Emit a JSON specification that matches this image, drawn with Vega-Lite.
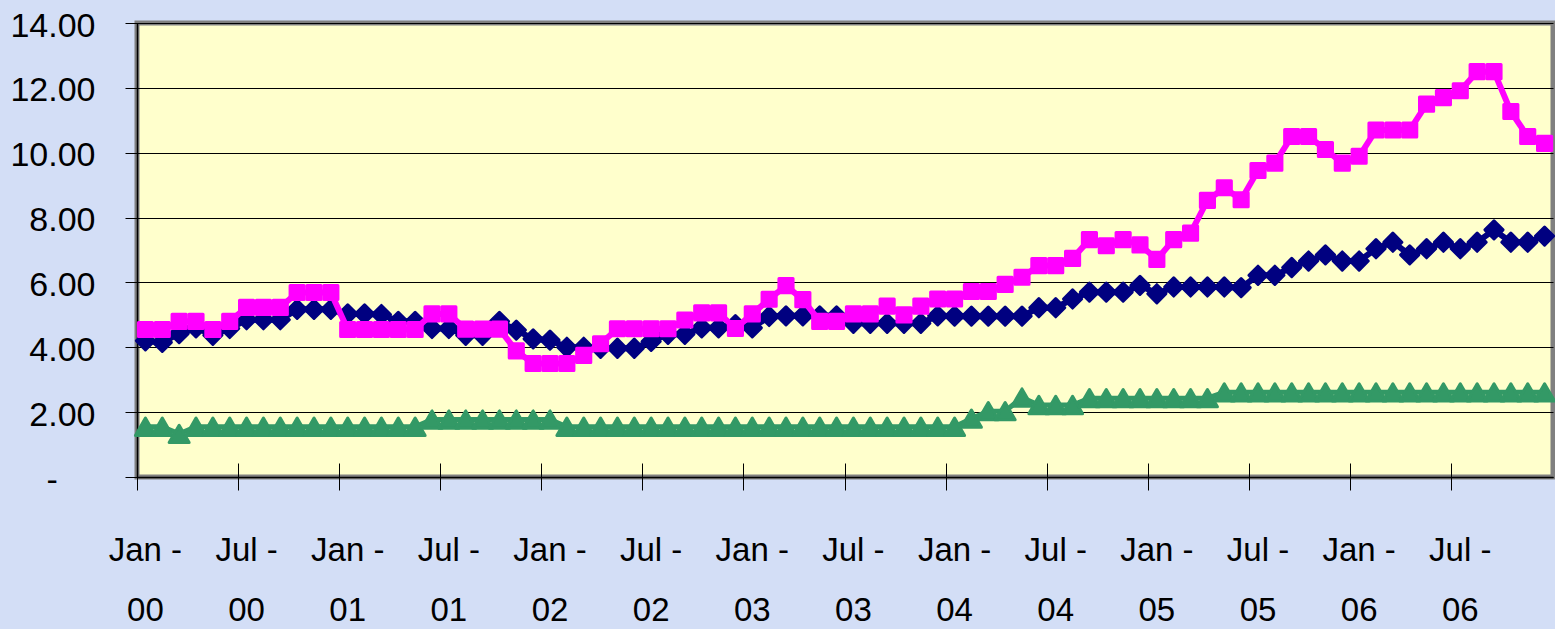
{
  "$schema": "https://vega.github.io/schema/vega-lite/v6.json",
  "width": 1416,
  "height": 454,
  "autosize": {"type": "none"},
  "padding": {"left": 137, "top": 23, "right": 2, "bottom": 152},
  "background": "#D3DEF6",
  "view": {"fill": "#FFFFCC", "stroke": "#808080", "strokeWidth": 5},
  "data": {"values": [
    {"month":"2000-01","series":"Series 1","value":4.20},{"month":"2000-02","series":"Series 1","value":4.15},{"month":"2000-03","series":"Series 1","value":4.42},{"month":"2000-04","series":"Series 1","value":4.60},{"month":"2000-05","series":"Series 1","value":4.37},{"month":"2000-06","series":"Series 1","value":4.58},{"month":"2000-07","series":"Series 1","value":4.85},{"month":"2000-08","series":"Series 1","value":4.85},{"month":"2000-09","series":"Series 1","value":4.85},{"month":"2000-10","series":"Series 1","value":5.17},{"month":"2000-11","series":"Series 1","value":5.17},{"month":"2000-12","series":"Series 1","value":5.17},
    {"month":"2001-01","series":"Series 1","value":5.03},{"month":"2001-02","series":"Series 1","value":5.03},{"month":"2001-03","series":"Series 1","value":5.01},{"month":"2001-04","series":"Series 1","value":4.80},{"month":"2001-05","series":"Series 1","value":4.80},{"month":"2001-06","series":"Series 1","value":4.58},{"month":"2001-07","series":"Series 1","value":4.58},{"month":"2001-08","series":"Series 1","value":4.37},{"month":"2001-09","series":"Series 1","value":4.37},{"month":"2001-10","series":"Series 1","value":4.80},{"month":"2001-11","series":"Series 1","value":4.53},{"month":"2001-12","series":"Series 1","value":4.26},
    {"month":"2002-01","series":"Series 1","value":4.22},{"month":"2002-02","series":"Series 1","value":4.00},{"month":"2002-03","series":"Series 1","value":4.00},{"month":"2002-04","series":"Series 1","value":3.97},{"month":"2002-05","series":"Series 1","value":3.97},{"month":"2002-06","series":"Series 1","value":3.97},{"month":"2002-07","series":"Series 1","value":4.18},{"month":"2002-08","series":"Series 1","value":4.40},{"month":"2002-09","series":"Series 1","value":4.40},{"month":"2002-10","series":"Series 1","value":4.60},{"month":"2002-11","series":"Series 1","value":4.60},{"month":"2002-12","series":"Series 1","value":4.70},
    {"month":"2003-01","series":"Series 1","value":4.60},{"month":"2003-02","series":"Series 1","value":4.95},{"month":"2003-03","series":"Series 1","value":4.97},{"month":"2003-04","series":"Series 1","value":4.97},{"month":"2003-05","series":"Series 1","value":4.97},{"month":"2003-06","series":"Series 1","value":4.97},{"month":"2003-07","series":"Series 1","value":4.74},{"month":"2003-08","series":"Series 1","value":4.74},{"month":"2003-09","series":"Series 1","value":4.74},{"month":"2003-10","series":"Series 1","value":4.74},{"month":"2003-11","series":"Series 1","value":4.74},{"month":"2003-12","series":"Series 1","value":4.97},
    {"month":"2004-01","series":"Series 1","value":4.96},{"month":"2004-02","series":"Series 1","value":4.96},{"month":"2004-03","series":"Series 1","value":4.96},{"month":"2004-04","series":"Series 1","value":4.96},{"month":"2004-05","series":"Series 1","value":4.96},{"month":"2004-06","series":"Series 1","value":5.22},{"month":"2004-07","series":"Series 1","value":5.22},{"month":"2004-08","series":"Series 1","value":5.49},{"month":"2004-09","series":"Series 1","value":5.70},{"month":"2004-10","series":"Series 1","value":5.70},{"month":"2004-11","series":"Series 1","value":5.70},{"month":"2004-12","series":"Series 1","value":5.91},
    {"month":"2005-01","series":"Series 1","value":5.65},{"month":"2005-02","series":"Series 1","value":5.86},{"month":"2005-03","series":"Series 1","value":5.86},{"month":"2005-04","series":"Series 1","value":5.86},{"month":"2005-05","series":"Series 1","value":5.86},{"month":"2005-06","series":"Series 1","value":5.84},{"month":"2005-07","series":"Series 1","value":6.22},{"month":"2005-08","series":"Series 1","value":6.22},{"month":"2005-09","series":"Series 1","value":6.46},{"month":"2005-10","series":"Series 1","value":6.66},{"month":"2005-11","series":"Series 1","value":6.85},{"month":"2005-12","series":"Series 1","value":6.66},
    {"month":"2006-01","series":"Series 1","value":6.66},{"month":"2006-02","series":"Series 1","value":7.04},{"month":"2006-03","series":"Series 1","value":7.24},{"month":"2006-04","series":"Series 1","value":6.85},{"month":"2006-05","series":"Series 1","value":7.04},{"month":"2006-06","series":"Series 1","value":7.24},{"month":"2006-07","series":"Series 1","value":7.04},{"month":"2006-08","series":"Series 1","value":7.24},{"month":"2006-09","series":"Series 1","value":7.62},{"month":"2006-10","series":"Series 1","value":7.24},{"month":"2006-11","series":"Series 1","value":7.24},{"month":"2006-12","series":"Series 1","value":7.43},

    {"month":"2000-01","series":"Series 2","value":4.55},{"month":"2000-02","series":"Series 2","value":4.55},{"month":"2000-03","series":"Series 2","value":4.80},{"month":"2000-04","series":"Series 2","value":4.80},{"month":"2000-05","series":"Series 2","value":4.55},{"month":"2000-06","series":"Series 2","value":4.80},{"month":"2000-07","series":"Series 2","value":5.23},{"month":"2000-08","series":"Series 2","value":5.23},{"month":"2000-09","series":"Series 2","value":5.23},{"month":"2000-10","series":"Series 2","value":5.69},{"month":"2000-11","series":"Series 2","value":5.69},{"month":"2000-12","series":"Series 2","value":5.69},
    {"month":"2001-01","series":"Series 2","value":4.55},{"month":"2001-02","series":"Series 2","value":4.55},{"month":"2001-03","series":"Series 2","value":4.55},{"month":"2001-04","series":"Series 2","value":4.55},{"month":"2001-05","series":"Series 2","value":4.55},{"month":"2001-06","series":"Series 2","value":5.03},{"month":"2001-07","series":"Series 2","value":5.03},{"month":"2001-08","series":"Series 2","value":4.56},{"month":"2001-09","series":"Series 2","value":4.56},{"month":"2001-10","series":"Series 2","value":4.56},{"month":"2001-11","series":"Series 2","value":3.89},{"month":"2001-12","series":"Series 2","value":3.50},
    {"month":"2002-01","series":"Series 2","value":3.50},{"month":"2002-02","series":"Series 2","value":3.50},{"month":"2002-03","series":"Series 2","value":3.75},{"month":"2002-04","series":"Series 2","value":4.11},{"month":"2002-05","series":"Series 2","value":4.57},{"month":"2002-06","series":"Series 2","value":4.57},{"month":"2002-07","series":"Series 2","value":4.57},{"month":"2002-08","series":"Series 2","value":4.57},{"month":"2002-09","series":"Series 2","value":4.84},{"month":"2002-10","series":"Series 2","value":5.06},{"month":"2002-11","series":"Series 2","value":5.06},{"month":"2002-12","series":"Series 2","value":4.58},
    {"month":"2003-01","series":"Series 2","value":5.03},{"month":"2003-02","series":"Series 2","value":5.48},{"month":"2003-03","series":"Series 2","value":5.90},{"month":"2003-04","series":"Series 2","value":5.47},{"month":"2003-05","series":"Series 2","value":4.80},{"month":"2003-06","series":"Series 2","value":4.80},{"month":"2003-07","series":"Series 2","value":5.03},{"month":"2003-08","series":"Series 2","value":5.03},{"month":"2003-09","series":"Series 2","value":5.27},{"month":"2003-10","series":"Series 2","value":5.00},{"month":"2003-11","series":"Series 2","value":5.27},{"month":"2003-12","series":"Series 2","value":5.49},
    {"month":"2004-01","series":"Series 2","value":5.49},{"month":"2004-02","series":"Series 2","value":5.72},{"month":"2004-03","series":"Series 2","value":5.72},{"month":"2004-04","series":"Series 2","value":5.94},{"month":"2004-05","series":"Series 2","value":6.16},{"month":"2004-06","series":"Series 2","value":6.52},{"month":"2004-07","series":"Series 2","value":6.52},{"month":"2004-08","series":"Series 2","value":6.74},{"month":"2004-09","series":"Series 2","value":7.32},{"month":"2004-10","series":"Series 2","value":7.13},{"month":"2004-11","series":"Series 2","value":7.32},{"month":"2004-12","series":"Series 2","value":7.16},
    {"month":"2005-01","series":"Series 2","value":6.71},{"month":"2005-02","series":"Series 2","value":7.32},{"month":"2005-03","series":"Series 2","value":7.52},{"month":"2005-04","series":"Series 2","value":8.53},{"month":"2005-05","series":"Series 2","value":8.92},{"month":"2005-06","series":"Series 2","value":8.55},{"month":"2005-07","series":"Series 2","value":9.45},{"month":"2005-08","series":"Series 2","value":9.68},{"month":"2005-09","series":"Series 2","value":10.50},{"month":"2005-10","series":"Series 2","value":10.50},{"month":"2005-11","series":"Series 2","value":10.10},{"month":"2005-12","series":"Series 2","value":9.68},
    {"month":"2006-01","series":"Series 2","value":9.89},{"month":"2006-02","series":"Series 2","value":10.70},{"month":"2006-03","series":"Series 2","value":10.70},{"month":"2006-04","series":"Series 2","value":10.70},{"month":"2006-05","series":"Series 2","value":11.50},{"month":"2006-06","series":"Series 2","value":11.70},{"month":"2006-07","series":"Series 2","value":11.91},{"month":"2006-08","series":"Series 2","value":12.50},{"month":"2006-09","series":"Series 2","value":12.50},{"month":"2006-10","series":"Series 2","value":11.27},{"month":"2006-11","series":"Series 2","value":10.50},{"month":"2006-12","series":"Series 2","value":10.29},

    {"month":"2000-01","series":"Series 3","value":1.55},{"month":"2000-02","series":"Series 3","value":1.55},{"month":"2000-03","series":"Series 3","value":1.33},{"month":"2000-04","series":"Series 3","value":1.55},{"month":"2000-05","series":"Series 3","value":1.55},{"month":"2000-06","series":"Series 3","value":1.55},{"month":"2000-07","series":"Series 3","value":1.55},{"month":"2000-08","series":"Series 3","value":1.55},{"month":"2000-09","series":"Series 3","value":1.55},{"month":"2000-10","series":"Series 3","value":1.55},{"month":"2000-11","series":"Series 3","value":1.55},{"month":"2000-12","series":"Series 3","value":1.55},
    {"month":"2001-01","series":"Series 3","value":1.55},{"month":"2001-02","series":"Series 3","value":1.55},{"month":"2001-03","series":"Series 3","value":1.55},{"month":"2001-04","series":"Series 3","value":1.55},{"month":"2001-05","series":"Series 3","value":1.55},{"month":"2001-06","series":"Series 3","value":1.77},{"month":"2001-07","series":"Series 3","value":1.77},{"month":"2001-08","series":"Series 3","value":1.77},{"month":"2001-09","series":"Series 3","value":1.77},{"month":"2001-10","series":"Series 3","value":1.77},{"month":"2001-11","series":"Series 3","value":1.77},{"month":"2001-12","series":"Series 3","value":1.77},
    {"month":"2002-01","series":"Series 3","value":1.77},{"month":"2002-02","series":"Series 3","value":1.55},{"month":"2002-03","series":"Series 3","value":1.55},{"month":"2002-04","series":"Series 3","value":1.55},{"month":"2002-05","series":"Series 3","value":1.55},{"month":"2002-06","series":"Series 3","value":1.55},{"month":"2002-07","series":"Series 3","value":1.55},{"month":"2002-08","series":"Series 3","value":1.55},{"month":"2002-09","series":"Series 3","value":1.55},{"month":"2002-10","series":"Series 3","value":1.55},{"month":"2002-11","series":"Series 3","value":1.55},{"month":"2002-12","series":"Series 3","value":1.55},
    {"month":"2003-01","series":"Series 3","value":1.55},{"month":"2003-02","series":"Series 3","value":1.55},{"month":"2003-03","series":"Series 3","value":1.55},{"month":"2003-04","series":"Series 3","value":1.55},{"month":"2003-05","series":"Series 3","value":1.55},{"month":"2003-06","series":"Series 3","value":1.55},{"month":"2003-07","series":"Series 3","value":1.55},{"month":"2003-08","series":"Series 3","value":1.55},{"month":"2003-09","series":"Series 3","value":1.55},{"month":"2003-10","series":"Series 3","value":1.55},{"month":"2003-11","series":"Series 3","value":1.55},{"month":"2003-12","series":"Series 3","value":1.55},
    {"month":"2004-01","series":"Series 3","value":1.55},{"month":"2004-02","series":"Series 3","value":1.80},{"month":"2004-03","series":"Series 3","value":2.03},{"month":"2004-04","series":"Series 3","value":2.03},{"month":"2004-05","series":"Series 3","value":2.45},{"month":"2004-06","series":"Series 3","value":2.22},{"month":"2004-07","series":"Series 3","value":2.22},{"month":"2004-08","series":"Series 3","value":2.22},{"month":"2004-09","series":"Series 3","value":2.43},{"month":"2004-10","series":"Series 3","value":2.43},{"month":"2004-11","series":"Series 3","value":2.43},{"month":"2004-12","series":"Series 3","value":2.43},
    {"month":"2005-01","series":"Series 3","value":2.43},{"month":"2005-02","series":"Series 3","value":2.43},{"month":"2005-03","series":"Series 3","value":2.43},{"month":"2005-04","series":"Series 3","value":2.43},{"month":"2005-05","series":"Series 3","value":2.61},{"month":"2005-06","series":"Series 3","value":2.61},{"month":"2005-07","series":"Series 3","value":2.61},{"month":"2005-08","series":"Series 3","value":2.61},{"month":"2005-09","series":"Series 3","value":2.61},{"month":"2005-10","series":"Series 3","value":2.61},{"month":"2005-11","series":"Series 3","value":2.61},{"month":"2005-12","series":"Series 3","value":2.61},
    {"month":"2006-01","series":"Series 3","value":2.61},{"month":"2006-02","series":"Series 3","value":2.61},{"month":"2006-03","series":"Series 3","value":2.61},{"month":"2006-04","series":"Series 3","value":2.61},{"month":"2006-05","series":"Series 3","value":2.61},{"month":"2006-06","series":"Series 3","value":2.61},{"month":"2006-07","series":"Series 3","value":2.61},{"month":"2006-08","series":"Series 3","value":2.61},{"month":"2006-09","series":"Series 3","value":2.61},{"month":"2006-10","series":"Series 3","value":2.61},{"month":"2006-11","series":"Series 3","value":2.61},{"month":"2006-12","series":"Series 3","value":2.61}
  ]},
  "layer": [
    {
      "transform": [{"filter": "datum.series == 'Series 3'"}],
      "mark": {"type": "line", "color": "#339966", "strokeWidth": 5, "point": {"shape": "triangle-up", "size": 400, "filled": true, "color": "#339966", "stroke": "#339966", "strokeWidth": 3, "strokeJoin": "round", "opacity": 1}},
      "encoding": {
        "x": {"field": "month", "type": "ordinal", "bandPosition": 0.5,
              "scale": {"type": "band", "paddingInner": 0, "paddingOuter": 0},
              "axis": {"orient": "bottom", "values": ["2000-01","2000-07","2001-01","2001-07","2002-01","2002-07","2003-01","2003-07","2004-01","2004-07","2005-01","2005-07","2006-01","2006-07"],
                       "bandPosition": 0, "offset": -14, "tickSize": 27, "tickColor": "#000000", "tickWidth": 1, "labels": false, "domain": false, "grid": false, "title": null}},
        "y": {"field": "value", "type": "quantitative",
              "scale": {"domain": [0, 14], "nice": false, "zero": true},
              "axis": {"orient": "left", "values": [0, 2, 4, 6, 8, 10, 12, 14], "grid": true, "gridColor": "#000000", "gridWidth": 1, "gridOpacity": 1,
                       "domain": true, "domainColor": "#000000", "domainWidth": 1.5, "ticks": false, "tickSize": 0, "labelPadding": 42,
                       "labelExpr": "datum.value == 0 ? '-\u00a0\u00a0\u00a0\u00a0\u200b' : format(datum.value, '.2f')",
                       "labelFont": "Liberation Sans, Arial, sans-serif", "labelFontSize": 34, "labelColor": "#000000", "labelOffset": 3, "labelOverlap": false, "labelBound": false, "labelFlush": false, "title": null}}
      }
    },
    {
      "transform": [{"filter": "datum.series == 'Series 1'"}],
      "mark": {"type": "line", "color": "#000080", "strokeWidth": 6, "point": {"shape": "diamond", "size": 330, "filled": true, "color": "#000080", "stroke": "#000080", "strokeWidth": 3, "strokeJoin": "round", "opacity": 1}},
      "encoding": {
        "x": {"field": "month", "type": "ordinal", "bandPosition": 0.5,
              "scale": {"type": "band", "paddingInner": 0, "paddingOuter": 0},
              "axis": {"orient": "bottom", "values": ["2000-01","2000-07","2001-01","2001-07","2002-01","2002-07","2003-01","2003-07","2004-01","2004-07","2005-01","2005-07","2006-01","2006-07"],
                       "bandPosition": 0.5, "ticks": false, "tickSize": 0, "domain": true, "domainColor": "#000000", "domainWidth": 1.5, "grid": false,
                       "labelExpr": "[slice(datum.value, 5) == '01' ? 'Jan -' : 'Jul -', slice(datum.value, 2, 4)]",
                       "labelFont": "Liberation Sans, Arial, sans-serif", "labelFontSize": 33, "labelColor": "#000000", "labelLineHeight": 60, "labelBaseline": "top", "labelPadding": 57, "labelAngle": 0, "labelOverlap": false, "labelBound": false, "labelFlush": false, "title": null}},
        "y": {"field": "value", "type": "quantitative",
              "scale": {"domain": [0, 14], "nice": false, "zero": true},
              "axis": {"orient": "left", "values": [0, 2, 4, 6, 8, 10, 12, 14], "offset": -13, "tickSize": 25, "tickColor": "#000000", "tickWidth": 1, "labels": false, "domain": false, "grid": false, "title": null}}
      }
    },
    {
      "transform": [{"filter": "datum.series == 'Series 2'"}],
      "mark": {"type": "line", "color": "#FF00FF", "strokeWidth": 6, "point": {"shape": "square", "size": 200, "filled": true, "color": "#FF00FF", "stroke": "#FF00FF", "strokeWidth": 3, "strokeJoin": "round", "opacity": 1}},
      "encoding": {
        "x": {"field": "month", "type": "ordinal", "bandPosition": 0.5,
              "scale": {"type": "band", "paddingInner": 0, "paddingOuter": 0}, "axis": null},
        "y": {"field": "value", "type": "quantitative",
              "scale": {"domain": [0, 14], "nice": false, "zero": true}, "axis": null}
      }
    }
  ],
  "resolve": {"scale": {"x": "shared", "y": "shared"}, "axis": {"x": "independent", "y": "independent"}}
}
